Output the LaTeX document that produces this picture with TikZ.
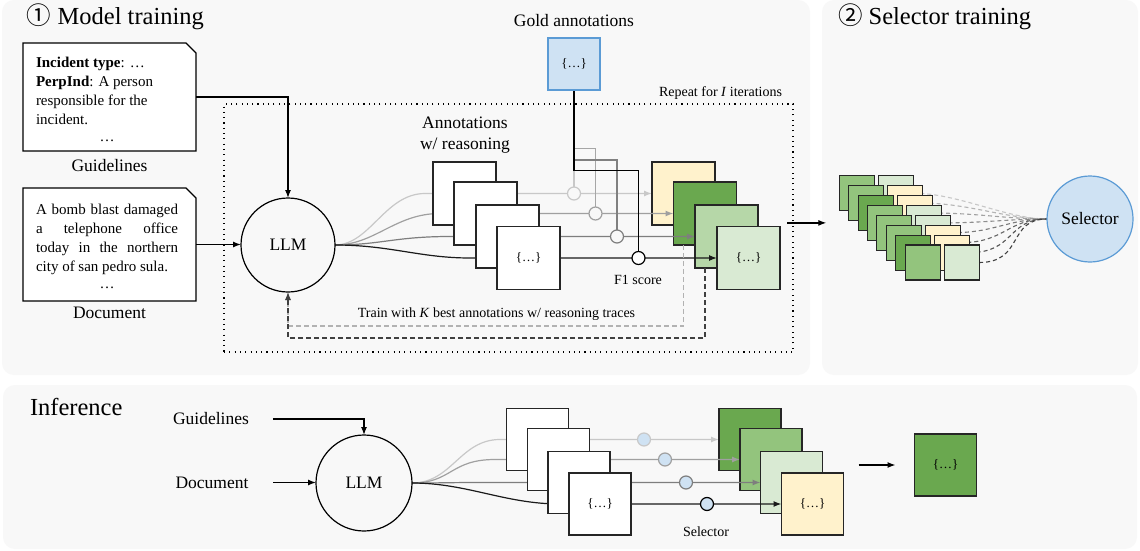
\documentclass[tikz,border=0pt]{standalone}
\usepackage{fontspec}
\setmainfont{Liberation Serif}
\newfontfamily\cjkf{Noto Sans CJK SC}
\usetikzlibrary{arrows.meta,calc}
\pgfdeclarelayer{L0}\pgfdeclarelayer{L1}\pgfdeclarelayer{L2}\pgfdeclarelayer{L3}\pgfdeclarelayer{L4}
\pgfsetlayers{L0,L1,L2,L3,L4,main}
\definecolor{panelbg}{HTML}{F8F8F8}
\definecolor{yel}{HTML}{FFF2CC}
\definecolor{dgreen}{HTML}{6AA84F}
\definecolor{mgreen}{HTML}{93C47D}
\definecolor{lgreen}{HTML}{B6D7A8}
\definecolor{pgreen}{HTML}{D9EAD3}
\definecolor{bfill}{HTML}{CFE2F3}
\definecolor{bdraw}{HTML}{5B9BD5}
\definecolor{gryA}{HTML}{C8C8C8}
\definecolor{gryB}{HTML}{A0A0A0}
\definecolor{gryC}{HTML}{7E7E7E}
\definecolor{gryD}{HTML}{1A1A1A}
\begin{document}
\begin{tikzpicture}[x=1pt,y=-1pt,
  every node/.style={inner sep=0pt, outer sep=0pt},
  panel/.style={fill=panelbg, draw=none, rounded corners=12pt},
  sq/.style={draw=black!85, line width=1.2pt, minimum size=63pt},
  sqb/.style={draw=black!85, line width=1.2pt, minimum size=62pt},
  ssq/.style={draw=black!85, line width=1.1pt, minimum size=35pt},
  arr/.style={-{Latex[length=8pt,width=6pt]}},
  ln/.style={line width=1.2pt},
  fs/.style={font=\fontsize{15}{19}\selectfont},
  fl/.style={font=\fontsize{17.5}{21}\selectfont},
  fsm/.style={font=\fontsize{14}{17}\selectfont},
  ftitle/.style={font=\fontsize{24.5}{29}\selectfont},
  fbr/.style={font=\fontsize{13}{15}\selectfont},
  fc/.style={circle, line width=1.2pt, minimum size=13pt},
  fbdash/.style={line width=1.1pt, dash pattern=on 5pt off 3pt},
]
\begin{pgfonlayer}{L0}
\fill[white] (0,0) rectangle (1140,551);
\path[panel] (2,0) rectangle (810,375);
\path[panel] (822,0) rectangle (1138,375);
\path[panel] (3,385) rectangle (1137,549);
\end{pgfonlayer}
\useasboundingbox (0,0) rectangle (1140,551);

% titles
\node[ftitle, anchor=base west] (ttl1) at (27,25) {{\cjkf ①} Model training};
\node[ftitle, anchor=base west] (ttl2) at (838,25) {{\cjkf ②} Selector training};
\node[ftitle, anchor=base west] (ttl3) at (30,415) {Inference};

% guidelines and document boxes
\node[minimum width=173pt, minimum height=108pt] (guide) at (109.5,97) {};
\draw[line width=1.2pt, fill=white] (guide.south west) -- (guide.north west) -- ([xshift=-10pt]guide.north east) -- ([yshift=-10pt]guide.north east) -- (guide.south east) -- cycle;
\node[fs, anchor=north west, align=left] (gtxt) at (36,57) {\textbf{Incident type}: …\\\textbf{PerpInd}: A person\\responsible for the\\incident.};
\node[fs, anchor=base] (gdots) at (107,141) {…};
\node[fl, anchor=base] (glab) at (109.5,171) {Guidelines};

\node[minimum width=173pt, minimum height=113pt] (doc) at (109.5,244.5) {};
\draw[line width=1.2pt, fill=white] (doc.south west) -- (doc.north west) -- ([xshift=-10pt]doc.north east) -- ([yshift=-10pt]doc.north east) -- (doc.south east) -- cycle;
\node[fs, anchor=north west, text width=142pt, align=justify] (dtxt) at (36,204.5) {\noindent A bomb blast damaged\linebreak a telephone office\linebreak today in the northern\linebreak city of san pedro sula.};
\node[fs, anchor=base] (ddots) at (107,288) {…};
\node[fl, anchor=base] (dlab) at (109.5,318) {Document};

% LLM
\node[circle, draw, line width=1.2pt, minimum size=94pt, fl] (llm) at (288,245) {LLM};
\draw[ln, arr] (guide.east) -| (llm.north);
\draw[ln, arr] (doc.east) -- (doc.east -| llm.west);

% loop box
\node[draw, line width=1.1pt, dash pattern=on 1.1pt off 4.2pt, minimum width=569pt, minimum height=248pt] (loop) at (508.5,228) {};
\node[fsm, anchor=base east] (rep) at (782,96) {Repeat for \textit{I} iterations};

% gold
\node[draw=bdraw, fill=bfill, line width=1.2pt, minimum size=52pt, fbr] (gold) at (574,64) {\{…\}};
\node[fl, anchor=base] (goldlab) at (574,27) {Gold annotations};

\node[fl, anchor=base] (annlabA) at (465,128) {Annotations};
\node[fl, anchor=base] (annlabB) at (465,149) {w/ reasoning};

% target squares (layered)
\begin{pgfonlayer}{L1}\node[sq, fill=yel] (t1) at (683.5,193.5) {};\end{pgfonlayer}
\begin{pgfonlayer}{L2}\node[sq, fill=dgreen] (t2) at (705,213.5) {};\end{pgfonlayer}
\begin{pgfonlayer}{L3}\node[sq, fill=lgreen] (t3) at (726.5,236.5) {};\end{pgfonlayer}
\begin{pgfonlayer}{L4}\node[sq, fill=pgreen, fbr] (t4) at (748.5,258) {\{…\}};\end{pgfonlayer}

% annotation boxes
\node[sq, fill=white] (a1) at (464.5,193.5) {};
\node[sq, fill=white] (a2) at (485.5,213.5) {};
\node[sq, fill=white] (a3) at (507.5,236.5) {};
\node[sq, fill=white, fbr] (a4) at (528.5,258) {\{…\}};

% F1 circles
\node[fc, draw=gryA, fill=panelbg] (f1) at (574,193.5) {};
\node[fc, draw=gryB, fill=panelbg] (f2) at (595.5,213.5) {};
\node[fc, draw=gryC, fill=panelbg] (f3) at (617,236.5) {};
\node[fc, draw=black, fill=white] (f4) at (638.5,258) {};
\node[fsm, anchor=base] (f1lab) at (638,284) {F1 score};

% lines from LLM
\begin{pgfonlayer}{L0}
\draw[ln, gryA, arr] (llm.east) .. controls +(35,0) and +(-40,0) .. (425,193.5) -- (t1.west);
\end{pgfonlayer}
\begin{pgfonlayer}{L1}
\draw[ln, gryB, arr] (llm.east) .. controls +(40,0) and +(-45,0) .. (440,213.5) -- (t2.west);
\end{pgfonlayer}
\begin{pgfonlayer}{L2}
\draw[ln, gryC, arr] (llm.east) .. controls +(45,0) and +(-55,0) .. (450,236.5) -- (t3.west);
\end{pgfonlayer}
\begin{pgfonlayer}{L3}
\draw[ln, gryD, arr] (llm.east) .. controls +(55,0) and +(-50,0) .. (470,258) -- (t4.west);
\end{pgfonlayer}
\begin{pgfonlayer}{L4}
\draw[ln, gryA] (gold.south) -- (f1.north);
\draw[ln, black!35] (gold.south) -- ++(0,58.3) -| (f2.north);
\draw[ln, black!50] (gold.south) -- ++(0,70) -| (f3.north);
\draw[ln, black] (gold.south) -- ++(0,80.7) -| (f4.north);
\end{pgfonlayer}

% feedback
\node[fsm, anchor=base] (trainlab) at (496.5,317) {Train with \textit{K} best annotations w/ reasoning traces};
\draw[fbdash, black!30, arr] ([xshift=10pt]t2.south west) -- ++(0,81) -| (llm.south);
\draw[fbdash, black!75, arr] ([xshift=10pt]t3.south west) -- ++(0,70) -| (llm.south);

% selector training
\node[circle, draw=bdraw, fill=bfill, line width=1.2pt, minimum size=86pt, fl] (sel) at (1090,219) {Selector};
\foreach \i/\cl/\cr in {0/mgreen/pgreen,1/mgreen/yel,2/dgreen/yel,3/mgreen/pgreen,4/mgreen/pgreen,5/mgreen/yel,6/dgreen/yel,7/mgreen/pgreen}{
  \node[ssq, fill=\cl] (sl\i) at ({856.8+9.4*\i},{193.2+9.9*\i}) {};
  \node[ssq, fill=\cr] (sr\i) at ({895.8+9.4*\i},{193.2+9.9*\i}) {};
}
\begin{pgfonlayer}{L0}
\foreach \i [evaluate=\i as \pc using 22+7.5*\i] in {0,...,7}{
  \draw[line width=1.1pt, dash pattern=on 4pt off 3pt, draw=black!\pc] (sr\i.east) .. controls +(45,0) and +(-40,0) .. (sel.west);
}
\end{pgfonlayer}
\draw[ln, arr] ([xshift=-6pt]loop.east |- sl3.west) -- ([xshift=-13pt]sl0.west |- sl3.west);

% inference
\node[fl] (g2) at (211,419) {Guidelines};
\node[fl] (d2) at (212,482.5) {Document};
\node[circle, draw, line width=1.2pt, minimum size=96pt, fl] (llm2) at (364,483) {LLM};
\draw[ln, arr] ([xshift=24pt]g2.east) -| (llm2.north);
\draw[ln, arr] ([xshift=25pt]d2.east) -- (d2.east -| llm2.west);

\begin{pgfonlayer}{L1}\node[sqb, fill=dgreen] (bt1) at (750,439.5) {};\end{pgfonlayer}
\begin{pgfonlayer}{L2}\node[sqb, fill=mgreen] (bt2) at (771,459.5) {};\end{pgfonlayer}
\begin{pgfonlayer}{L3}\node[sqb, fill=pgreen] (bt3) at (791.5,482.5) {};\end{pgfonlayer}
\begin{pgfonlayer}{L4}\node[sqb, fill=yel, fbr] (bt4) at (812.5,504) {\{…\}};\end{pgfonlayer}

\node[sqb, fill=white] (ba1) at (537.5,439.5) {};
\node[sqb, fill=white] (ba2) at (558.5,459.5) {};
\node[sqb, fill=white] (ba3) at (579,482.5) {};
\node[sqb, fill=white, fbr] (ba4) at (600,504) {\{…\}};

\node[fc, draw=gryA, fill=bfill] (bf1) at (644,439.5) {};
\node[fc, draw=gryB, fill=bfill] (bf2) at (665,459.5) {};
\node[fc, draw=gryC, fill=bfill] (bf3) at (686,482.5) {};
\node[fc, draw=black, fill=bfill] (bf4) at (707,504) {};
\node[fsm, anchor=base] (sellab) at (706,536) {Selector};

\begin{pgfonlayer}{L0}
\draw[ln, gryA, arr] (llm2.east) .. controls +(40,0) and +(-40,0) .. (500,439.5) -- (bt1.west);
\end{pgfonlayer}
\begin{pgfonlayer}{L1}
\draw[ln, gryB, arr] (llm2.east) .. controls +(40,0) and +(-45,0) .. (495,459.5) -- (bt2.west);
\end{pgfonlayer}
\begin{pgfonlayer}{L2}
\draw[ln, gryC, arr] (llm2.east) .. controls +(30,0) and +(-30,0) .. (480,482.5) -- (bt3.west);
\end{pgfonlayer}
\begin{pgfonlayer}{L3}
\draw[ln, gryD, arr] (llm2.east) .. controls +(55,0) and +(-55,0) .. (560,504) -- (bt4.west);
\end{pgfonlayer}

\node[sqb, fill=dgreen, fbr] (final) at (945.5,465) {\{…\}};
\draw[ln, arr] ([xshift=15pt]bt4.east |- final.west) -- ([xshift=-19pt]final.west);
\end{tikzpicture}
\end{document}
